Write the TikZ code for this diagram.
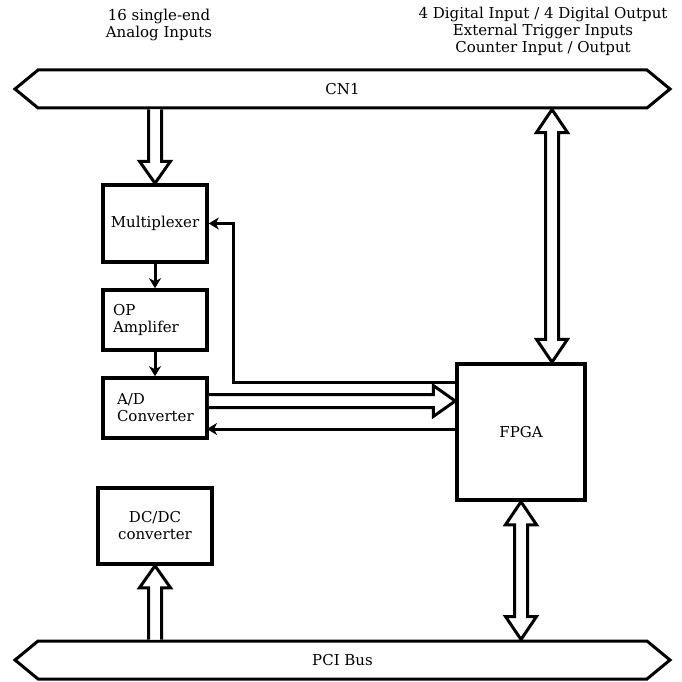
\documentclass[tikz,border=0pt]{standalone}
\usepackage{fontspec}
\setmainfont{DejaVu Serif}
\usetikzlibrary{shapes.symbols,calc,arrows.meta}

\tikzset{
  box/.style={draw,line width=3.5pt,minimum width=104pt,minimum height=60pt},
  bus/.style={draw,line width=3pt,signal,signal to=west and east,
    signal pointer angle=79,minimum width=655pt,minimum height=38pt},
  fat/.style={draw,line width=3pt,fill=white,line join=miter},
  wire/.style={line width=3pt,-{Stealth[length=10pt,width=12pt,inset=3pt]}}
}

% hollow bus arrow from #1 to #2
\newcommand{\fatarrow}[2]{%
  \coordinate (fa-s) at #1;
  \coordinate (fa-e) at #2;
  \coordinate (fa-h) at ($(fa-e)!22pt!(fa-s)$);
  \draw[fat] ($(fa-s)!6.5pt!90:(fa-e)$) -- ($(fa-h)!6.5pt!90:(fa-e)$)
    -- ($(fa-h)!15.5pt!90:(fa-e)$) -- (fa-e) -- ($(fa-h)!15.5pt!-90:(fa-e)$)
    -- ($(fa-h)!6.5pt!-90:(fa-e)$) -- ($(fa-s)!6.5pt!-90:(fa-e)$);
}
% hollow bus arrow with heads at both ends
\newcommand{\fatdarrow}[2]{%
  \coordinate (fa-s) at #1;
  \coordinate (fa-e) at #2;
  \coordinate (fa-a) at ($(fa-s)!23pt!(fa-e)$);
  \coordinate (fa-b) at ($(fa-e)!23pt!(fa-s)$);
  \draw[fat] (fa-s) -- ($(fa-a)!15.5pt!90:(fa-e)$) -- ($(fa-a)!6.5pt!90:(fa-e)$)
    -- ($(fa-b)!6.5pt!90:(fa-e)$) -- ($(fa-b)!15.5pt!90:(fa-e)$) -- (fa-e)
    -- ($(fa-b)!15.5pt!-90:(fa-e)$) -- ($(fa-b)!6.5pt!-90:(fa-e)$)
    -- ($(fa-a)!6.5pt!-90:(fa-e)$) -- ($(fa-a)!15.5pt!-90:(fa-e)$) -- cycle;
}

\begin{document}
\begin{tikzpicture}[x=1pt,y=-1pt,every node/.style={font=\fontsize{15}{17}\selectfont}]
  \useasboundingbox (0,0) rectangle (681,682);

  \node[align=center] (ain) at (159,25) {16 single-end\\Analog Inputs};
  \node[align=center] (dio) at (543,31)
    {4 Digital Input / 4 Digital Output\\External Trigger Inputs\\Counter Input / Output};

  \node[bus] (cn1) at (342.5,89) {CN1};
  \node[bus] (pci) at (342.5,660) {PCI Bus};

  \node[box,minimum height=77pt] (mux) at (155,223.5) {Multiplexer};
  \node[box,align=left,text width=84pt,inner xsep=10pt] (op) at (155,320) {OP\\Amplifer};
  \node[box,align=left,text width=76pt,inner xsep=14pt] (ad) at (155,408) {A/D\\Converter};
  \node[box,minimum width=128pt,minimum height=136pt] (fpga) at (521,432) {FPGA};
  \node[box,align=center,minimum width=114pt,minimum height=76pt] (dcdc) at (155,526) {DC/DC\\converter};

  \draw[wire] (mux) -- (op);
  \draw[wire] (op) -- (ad);

  \coordinate (ctl) at (233,382);
  \draw[wire] (ctl -| fpga.west) -- (ctl) |- (mux.east);
  \coordinate (ret) at (207,429);
  \draw[wire] (ret -| fpga.west) -- (ret);

  \fatarrow{(mux.north |- cn1.south)}{(mux.north)}
  \fatarrow{([yshift=7pt]ad.east)}{([yshift=7pt]ad.east -| fpga.west)}
  \fatarrow{(dcdc.south |- pci.north)}{(dcdc.south)}
  \fatdarrow{([xshift=31pt]fpga.north |- cn1.south)}{([xshift=31pt]fpga.north)}
  \fatdarrow{(fpga.south)}{(fpga.south |- pci.north)}
\end{tikzpicture}
\end{document}
